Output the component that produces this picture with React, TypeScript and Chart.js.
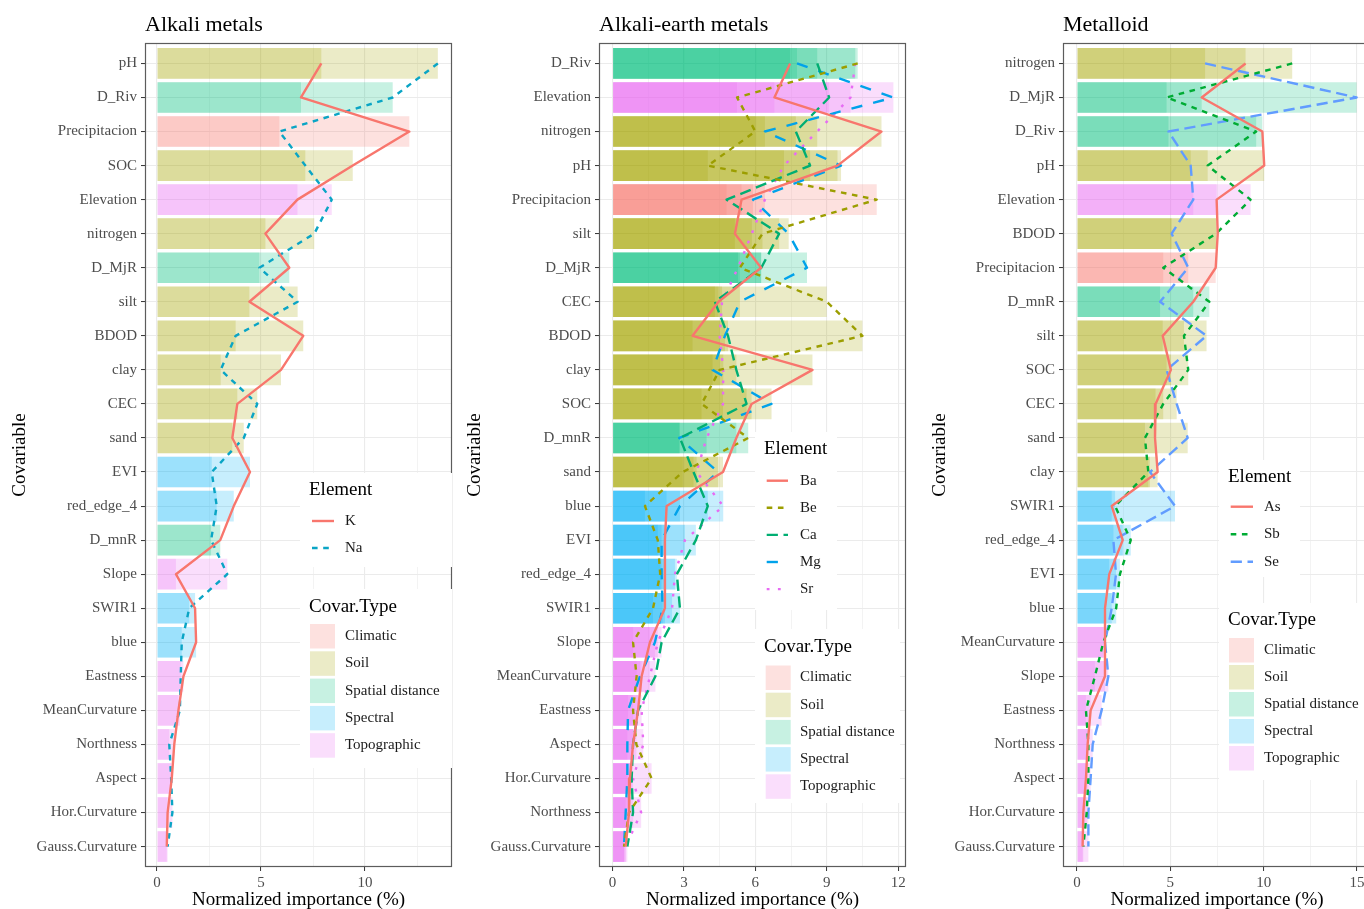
import React, { useEffect, useRef } from 'react';
import { Chart, registerables } from 'chart.js';

Chart.register(...registerables);
Chart.defaults.font.family = '"Liberation Serif", "DejaVu Serif", serif';

// ---------- shared ----------
const covarTypes = ['Climatic', 'Soil', 'Spatial distance', 'Spectral', 'Topographic'];
const covarColors = ['#F8766D', '#A3A500', '#00BF7D', '#00B0F6', '#E76BF3'];
const BAR_ALPHA = 0.22;

// ---------- Panel 1: Alkali metals ----------
const cats1 = ['pH', 'D_Riv', 'Precipitacion', 'SOC', 'Elevation', 'nitrogen', 'D_MjR', 'silt', 'BDOD', 'clay', 'CEC', 'sand', 'EVI', 'red_edge_4', 'D_mnR', 'Slope', 'SWIR1', 'blue', 'Eastness', 'MeanCurvature', 'Northness', 'Aspect', 'Hor.Curvature', 'Gauss.Curvature'];
const types1 = ['Soil', 'Spatial distance', 'Climatic', 'Soil', 'Topographic', 'Soil', 'Spatial distance', 'Soil', 'Soil', 'Soil', 'Soil', 'Soil', 'Spectral', 'Spectral', 'Spatial distance', 'Topographic', 'Spectral', 'Spectral', 'Topographic', 'Topographic', 'Topographic', 'Topographic', 'Topographic', 'Topographic'];
const K = [7.9, 6.92, 12.13, 9.41, 6.75, 5.21, 6.36, 4.44, 7.03, 5.96, 3.86, 3.62, 4.47, 3.69, 3.04, 0.91, 1.83, 1.88, 1.27, 1.03, 0.83, 0.71, 0.51, 0.47];
const Na = [13.5, 11.33, 5.88, 7.13, 8.4, 7.56, 4.92, 6.76, 3.78, 3.06, 4.82, 4.17, 2.63, 2.87, 2.6, 3.38, 1.55, 1.19, 1.14, 1.1, 0.59, 0.68, 0.74, 0.51];

// ---------- Panel 2: Alkali-earth metals ----------
const cats2 = ['D_Riv', 'Elevation', 'nitrogen', 'pH', 'Precipitacion', 'silt', 'D_MjR', 'CEC', 'BDOD', 'clay', 'SOC', 'D_mnR', 'sand', 'blue', 'EVI', 'red_edge_4', 'SWIR1', 'Slope', 'MeanCurvature', 'Eastness', 'Aspect', 'Hor.Curvature', 'Northness', 'Gauss.Curvature'];
const types2 = ['Spatial distance', 'Topographic', 'Soil', 'Soil', 'Climatic', 'Soil', 'Spatial distance', 'Soil', 'Soil', 'Soil', 'Soil', 'Spatial distance', 'Soil', 'Spectral', 'Spectral', 'Spectral', 'Spectral', 'Topographic', 'Topographic', 'Topographic', 'Topographic', 'Topographic', 'Topographic', 'Topographic'];
const Ba = [7.46, 6.8, 11.3, 9.45, 5.42, 5.14, 6.24, 4.45, 3.36, 8.4, 5.84, 5.2, 4.64, 2.27, 2.2, 2.2, 2.2, 1.57, 1.22, 1.07, 0.86, 0.73, 0.69, 0.55];
const Be = [10.3, 5.23, 6.0, 4.0, 11.1, 6.3, 5.35, 9.0, 10.5, 4.5, 3.74, 5.7, 2.95, 1.36, 1.9, 2.0, 1.7, 0.86, 1.01, 0.86, 1.0, 1.64, 0.69, 0.48];
const Ca = [8.6, 9.1, 7.7, 8.3, 4.79, 7.0, 6.25, 4.3, 4.85, 5.2, 5.63, 2.83, 3.4, 4.0, 3.5, 2.7, 2.83, 2.06, 1.8, 1.07, 0.86, 0.8, 0.86, 0.62];
const Mg = [7.75, 11.8, 6.4, 9.6, 5.9, 7.4, 8.17, 5.35, 4.72, 4.2, 6.68, 2.8, 4.43, 2.83, 2.06, 2.06, 2.1, 1.78, 1.15, 0.65, 0.62, 0.62, 0.55, 0.48];
const Sr = [10.2, 10.0, 8.6, 7.2, 6.4, 5.85, 5.27, 4.6, 4.5, 4.65, 4.64, 3.95, 3.53, 4.65, 3.04, 2.62, 2.5, 1.9, 1.57, 1.22, 1.29, 0.86, 1.2, 0.55];

// ---------- Panel 3: Metalloid ----------
const cats3 = ['nitrogen', 'D_MjR', 'D_Riv', 'pH', 'Elevation', 'BDOD', 'Precipitacion', 'D_mnR', 'silt', 'SOC', 'CEC', 'sand', 'clay', 'SWIR1', 'red_edge_4', 'EVI', 'blue', 'MeanCurvature', 'Slope', 'Eastness', 'Northness', 'Aspect', 'Hor.Curvature', 'Gauss.Curvature'];
const types3 = ['Soil', 'Spatial distance', 'Spatial distance', 'Soil', 'Topographic', 'Soil', 'Climatic', 'Spatial distance', 'Soil', 'Soil', 'Soil', 'Soil', 'Soil', 'Spectral', 'Spectral', 'Spectral', 'Spectral', 'Topographic', 'Topographic', 'Topographic', 'Topographic', 'Topographic', 'Topographic', 'Topographic'];
const As = [9.03, 6.68, 9.93, 10.03, 7.48, 7.54, 7.43, 6.23, 4.59, 5.03, 4.21, 4.18, 4.32, 1.86, 2.45, 1.73, 1.5, 1.5, 1.5, 0.73, 0.57, 0.48, 0.34, 0.3];
const Sb = [11.53, 4.8, 9.6, 7.0, 9.3, 7.45, 4.62, 7.09, 5.73, 5.96, 4.62, 3.64, 3.82, 2.04, 2.88, 2.3, 2.1, 1.41, 0.96, 0.48, 0.61, 0.61, 0.52, 0.34];
const Se = [6.86, 14.98, 4.9, 6.09, 6.23, 5.07, 5.96, 4.45, 6.94, 4.8, 5.34, 5.93, 3.91, 5.25, 1.95, 2.09, 1.86, 1.5, 1.68, 1.32, 0.84, 0.73, 0.61, 0.61];

// line styles (ggplot linetypes "solid", "22", "42", "44", "13")
const U = 2.8;
const LT = {
  solid: [] as number[],
  d22: [2 * U, 2 * U],
  d42: [4 * U, 2 * U],
  d44: [4 * U, 4 * U],
  d13: [1 * U, 3 * U],
};

function rgba(hex: string, a: number) {
  const n = parseInt(hex.slice(1), 16);
  return `rgba(${(n >> 16) & 255},${(n >> 8) & 255},${n & 255},${a})`;
}

type Series = { name: string; data: number[]; color: string; dash: number[] };
type Spec = {
  title: string;
  pageLeft: number;
  chartLeft: number;
  padRight: number;
  xmin: number;
  xmax: number;
  minor: number;
  major: number;
  cats: string[];
  types: string[];
  series: Series[];
  yTitleX: number;
  elem: { x: number; y: number; w: number; h: number; titleX: number; titleY: number; y0: number; gap: number; lx1: number; lx2: number; labelX: number };
  cov: { x: number; y: number; w: number; h: number; titleX: number; titleY: number; y0: number; gap: number; kx: number; labelX: number };
};

const PANELS: Spec[] = [
  {
    title: 'Alkali metals', pageLeft: 0, chartLeft: 145, padRight: 8,
    xmin: -0.577, xmax: 14.18, minor: 2.5, major: 5,
    cats: cats1, types: types1,
    series: [
      { name: 'K', data: K, color: '#F8766D', dash: LT.solid },
      { name: 'Na', data: Na, color: '#0AA5C5', dash: LT.d22 },
    ],
    yTitleX: 20,
    elem: { x: 300, y: 473, w: 152, h: 94, titleX: 309, titleY: 490.5, y0: 521, gap: 27, lx1: 312, lx2: 334, labelX: 345 },
    cov: { x: 300, y: 589, w: 152, h: 179, titleX: 309, titleY: 607, y0: 636, gap: 27.3, kx: 310, labelX: 345 },
  },
  {
    title: 'Alkali-earth metals', pageLeft: 460, chartLeft: 139, padRight: 14,
    xmin: -0.571, xmax: 12.33, minor: 1.5, major: 3,
    cats: cats2, types: types2,
    series: [
      { name: 'Ba', data: Ba, color: '#F8766D', dash: LT.solid },
      { name: 'Be', data: Be, color: '#9C9E00', dash: LT.d22 },
      { name: 'Ca', data: Ca, color: '#00AE72', dash: LT.d42 },
      { name: 'Mg', data: Mg, color: '#00A2EA', dash: LT.d44 },
      { name: 'Sr', data: Sr, color: '#E76BF3', dash: LT.d13 },
    ],
    yTitleX: 15,
    elem: { x: 295, y: 432, w: 82, h: 178, titleX: 304, titleY: 449, y0: 480.7, gap: 27.1, lx1: 306.7, lx2: 328, labelX: 340 },
    cov: { x: 295, y: 629, w: 145, h: 174, titleX: 304, titleY: 646.7, y0: 677.5, gap: 27.2, kx: 305.7, labelX: 340 },
  },
  {
    title: 'Metalloid', pageLeft: 920, chartLeft: 143, padRight: 9,
    xmin: -0.75, xmax: 15.75, minor: 2.5, major: 5,
    cats: cats3, types: types3,
    series: [
      { name: 'As', data: As, color: '#F8766D', dash: LT.solid },
      { name: 'Sb', data: Sb, color: '#00AC34', dash: LT.d22 },
      { name: 'Se', data: Se, color: '#619CFF', dash: LT.d42 },
    ],
    yTitleX: 20,
    elem: { x: 299, y: 460, w: 81, h: 117, titleX: 308, titleY: 476.7, y0: 506.7, gap: 27.5, lx1: 310.7, lx2: 333, labelX: 344 },
    cov: { x: 299, y: 603, w: 150, h: 177, titleX: 308, titleY: 620, y0: 650, gap: 27, kx: 309, labelX: 344 },
  },
];

const W = 460;
const H = 909;
const FONT = '"Liberation Serif", "DejaVu Serif", serif';

function isMajor(v: number, major: number) {
  const r = v / major;
  return Math.abs(r - Math.round(r)) < 1e-6;
}

function decorPlugin(spec: Spec) {
  return {
    id: 'decor',
    afterDraw(chart: any) {
      const ctx: CanvasRenderingContext2D = chart.ctx;
      const a = chart.chartArea;
      ctx.save();
      // panel border
      ctx.strokeStyle = '#5c5c5c';
      ctx.lineWidth = 1.2;
      ctx.setLineDash([]);
      ctx.strokeRect(a.left + 0.5, a.top + 0.5, a.right - a.left - 1, a.bottom - a.top - 1);

      // title
      ctx.fillStyle = '#000';
      ctx.textAlign = 'left';
      ctx.textBaseline = 'alphabetic';
      ctx.font = `22px ${FONT}`;
      ctx.fillText(spec.title, a.left, 30.5);

      // x axis title
      ctx.font = `19px ${FONT}`;
      ctx.textAlign = 'center';
      ctx.fillText('Normalized importance (%)', (a.left + a.right) / 2, 905);

      // y axis title
      ctx.save();
      ctx.translate(spec.yTitleX, (a.top + a.bottom) / 2);
      ctx.rotate(-Math.PI / 2);
      ctx.textBaseline = 'middle';
      ctx.textAlign = 'center';
      ctx.fillText('Covariable', 0, 0);
      ctx.restore();

      // Element legend
      const e = spec.elem;
      ctx.fillStyle = '#fff';
      ctx.fillRect(e.x, e.y, e.w, e.h);
      ctx.fillStyle = '#000';
      ctx.textAlign = 'left';
      ctx.textBaseline = 'middle';
      ctx.font = `19px ${FONT}`;
      ctx.fillText('Element', e.titleX, e.titleY);
      spec.series.forEach((s, i) => {
        const y = e.y0 + e.gap * i;
        ctx.strokeStyle = s.color;
        ctx.lineWidth = 2.4;
        ctx.lineCap = 'butt';
        ctx.setLineDash(s.dash);
        ctx.beginPath();
        ctx.moveTo(e.lx1, y);
        ctx.lineTo(e.lx2, y);
        ctx.stroke();
        ctx.setLineDash([]);
        ctx.fillStyle = '#1a1a1a';
        ctx.font = `15px ${FONT}`;
        ctx.fillText(s.name, e.labelX, y);
      });

      // Covar.Type legend
      const c = spec.cov;
      ctx.fillStyle = '#fff';
      ctx.fillRect(c.x, c.y, c.w, c.h);
      ctx.fillStyle = '#000';
      ctx.font = `19px ${FONT}`;
      ctx.fillText('Covar.Type', c.titleX, c.titleY);
      covarTypes.forEach((t, i) => {
        const y = c.y0 + c.gap * i;
        ctx.fillStyle = rgba(covarColors[i], BAR_ALPHA);
        ctx.fillRect(c.kx, y - 12, 25, 24.5);
        ctx.fillStyle = '#1a1a1a';
        ctx.font = `15px ${FONT}`;
        ctx.fillText(t, c.labelX, y);
      });
      ctx.restore();
    },
  };
}

function buildConfig(spec: Spec): any {
  const n = spec.cats.length;
  const xticks: number[] = [];
  for (let v = 0; v <= spec.xmax + 1e-9; v += spec.minor) xticks.push(Math.round(v * 1000) / 1000);
  const barColors = spec.types.map((t) => rgba(covarColors[covarTypes.indexOf(t)], BAR_ALPHA));

  const lineSets = spec.series.map((s) => ({
    type: 'line',
    label: s.name,
    data: s.data.map((v, i) => ({ x: v, y: i })),
    borderColor: s.color,
    borderWidth: 2.4,
    borderDash: s.dash,
    borderCapStyle: 'butt',
    borderJoinStyle: 'round',
    pointRadius: 0,
    pointHoverRadius: 0,
    fill: false,
    tension: 0,
    order: 0,
  }));
  const barSets = spec.series.map((s) => ({
    type: 'bar',
    label: s.name + ' bar',
    data: s.data.map((v, i) => ({ x: v, y: i })),
    backgroundColor: barColors,
    borderWidth: 0,
    grouped: false,
    barPercentage: 0.9,
    categoryPercentage: 1,
    order: 1,
  }));

  return {
    type: 'bar',
    data: { datasets: [...lineSets, ...barSets] },
    options: {
      indexAxis: 'y',
      responsive: false,
      animation: false,
      devicePixelRatio: 1,
      events: [],
      layout: { padding: { left: 0, right: spec.padRight, top: 43, bottom: 0 } },
      plugins: { legend: { display: false }, tooltip: { enabled: false }, title: { display: false } },
      scales: {
        x: {
          type: 'linear',
          min: spec.xmin,
          max: spec.xmax,
          offset: false,
          afterBuildTicks: (sc: any) => {
            sc.ticks = xticks.map((v) => ({ value: v }));
          },
          afterFit: (sc: any) => {
            sc.height = 42;
          },
          ticks: {
            autoSkip: false,
            maxRotation: 0,
            padding: 3,
            color: '#4d4d4d',
            font: { size: 15, family: FONT },
            callback: (v: number) => (isMajor(v, spec.major) ? String(v) : ''),
          },
          grid: {
            offset: false,
            color: '#ebebeb',
            lineWidth: (ctx: any) => (ctx.tick && isMajor(ctx.tick.value, spec.major) ? 1.1 : 0.6),
            tickColor: (ctx: any) => (ctx.tick && isMajor(ctx.tick.value, spec.major) ? '#333333' : 'rgba(0,0,0,0)'),
            tickWidth: 1,
            tickLength: 4,
          },
          border: { display: false },
        },
        y: {
          type: 'linear',
          min: -0.6,
          max: n - 1 + 0.6,
          reverse: true,
          offset: false,
          afterBuildTicks: (sc: any) => {
            sc.ticks = spec.cats.map((_, i) => ({ value: i }));
          },
          afterFit: (sc: any) => {
            sc.width = spec.chartLeft;
          },
          ticks: {
            autoSkip: false,
            padding: 4,
            color: '#4d4d4d',
            font: { size: 15, family: FONT },
            callback: (v: number) => spec.cats[Math.round(v)] ?? '',
          },
          grid: {
            offset: false,
            color: '#ebebeb',
            lineWidth: 1.1,
            tickColor: '#333333',
            tickWidth: 1,
            tickLength: 4,
          },
          border: { display: false },
        },
      },
    },
    plugins: [decorPlugin(spec)],
  };
}

function Panel({ spec }: { spec: Spec }) {
  const ref = useRef<HTMLCanvasElement | null>(null);
  useEffect(() => {
    if (!ref.current) return;
    const chart = new Chart(ref.current, buildConfig(spec));
    return () => chart.destroy();
  }, [spec]);
  return (
    <canvas
      ref={ref}
      width={W}
      height={H}
      style={{ position: 'absolute', left: spec.pageLeft, top: 0, width: W, height: H, display: 'block' }}
    />
  );
}

export default function App() {
  return (
    <div
      style={{
        position: 'fixed',
        left: 0,
        top: 0,
        width: 1364,
        height: 909,
        overflow: 'hidden',
        background: '#ffffff',
      }}
    >
      {PANELS.map((p) => (
        <Panel key={p.title} spec={p} />
      ))}
    </div>
  );
}
